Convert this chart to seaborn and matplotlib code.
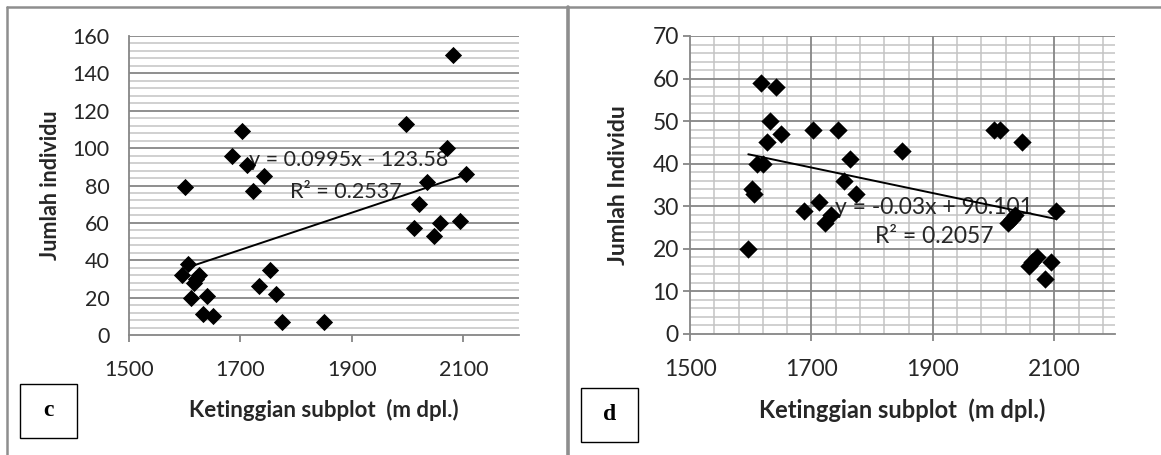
import matplotlib
matplotlib.use("Agg")
import matplotlib.pyplot as plt
from matplotlib.lines import Line2D
from matplotlib.patches import Rectangle
import numpy as np
import pandas as pd
import seaborn as sns

# --- panel c: jumlah individu vs ketinggian ---
c_alt = [2082, 1998, 2071, 2104, 2034, 2021, 2011, 2058, 2094, 2048,
         1703, 1685, 1712, 1742, 1723, 1600, 1605, 1595, 1625, 1617,
         1621, 1611, 1640, 1632, 1650, 1753, 1733, 1763, 1774, 1850]
c_count = [150, 113, 100, 86, 82, 70, 57, 60, 61, 53,
           109, 96, 91, 85, 77, 79, 38, 32, 32, 28,
           30, 20, 21, 11, 10, 35, 26, 22, 7, 7]
c_slope, c_intercept = 0.0995, -123.58
c_eq = "y = 0.0995x - 123.58"
c_r2 = "R\u00b2 = 0.2537"

# --- panel d ---
d_alt = [1617, 1642, 1632, 1650, 1627, 1610, 1620, 1602, 1605, 1596,
         1702, 1744, 1764, 1753, 1774, 1688, 1713, 1722, 1732, 1849,
         2001, 2011, 2047, 2024, 2030, 2036, 2103, 2059, 2071, 2094,
         2085, 2063]
d_count = [59, 58, 50, 47, 45, 40, 40, 34, 33, 20,
           48, 48, 41, 36, 33, 29, 31, 26, 28, 43,
           48, 48, 45, 26, 27, 28, 29, 16, 18, 17,
           13, 17]
d_slope, d_intercept = -0.03, 90.101
d_eq = "y = -0.03x + 90.101"
d_r2 = "R\u00b2 = 0.2057"

x_ticks = [1500, 1700, 1900, 2100]
x_label = "Ketinggian subplot  (m dpl.)"

sns.set_style("white")
plt.rcParams["font.family"] = ["Lato", "DejaVu Sans"]

MAJ = "#868686"
MIN = "#c3c3c3"
TXT = "#262626"

fig = plt.figure(figsize=(11.61, 4.55), dpi=100)
W, H = 1161, 455


def ax_at(x0, y0, x1, y1):
    return fig.add_axes([x0 / W, 1 - y1 / H, (x1 - x0) / W, (y1 - y0) / H])


def panel(ax, alt, count, slope, intercept, eq, r2, ymax, ymaj, ymin,
          vgrid, fs, ylab, eq_pos, r2_pos, ytick_len, ypad, xpad,
          xlab_y, ylab_x):
    df = pd.DataFrame({"alt": alt, "count": count})
    ax.set_xlim(1500, 2200)
    ax.set_ylim(0, ymax)
    ax.set_xticks(x_ticks)
    ax.set_yticks(np.arange(0, ymax + 1, ymaj))
    ax.grid(False)

    # gridlines: light minor lines first, darker major lines on top
    for v in np.arange(0, ymax + 0.1, ymin):
        if v % ymaj:
            ax.axhline(v, color=MIN, lw=1.1, zorder=0.5)
    if vgrid:
        for v in np.arange(1540, 2200, 40):
            if (v - 1500) % 200:
                ax.axvline(v, color=MIN, lw=1.1, zorder=0.5)
        for v in x_ticks[1:]:
            ax.axvline(v, color=MAJ, lw=1.3, zorder=0.8)
    for v in np.arange(ymaj, ymax + 0.1, ymaj):
        ax.axhline(v, color=MAJ, lw=1.3, zorder=0.8)

    for s in ("top", "right"):
        ax.spines[s].set_visible(False)
    for s in ("left", "bottom"):
        ax.spines[s].set_color(MAJ)
        ax.spines[s].set_linewidth(1.3)

    # trend line over the data range
    xs = [min(alt), max(alt)]
    trend = pd.DataFrame({"alt": xs, "fit": [slope * v + intercept for v in xs]})

    ax.text(eq_pos[0], eq_pos[1], eq, ha="center", va="center",
            fontsize=fs, color=TXT, zorder=2)
    ax.text(r2_pos[0], r2_pos[1], r2, ha="center", va="center",
            fontsize=fs, color=TXT, zorder=2)

    sns.lineplot(data=trend, x="alt", y="fit", ax=ax, color="black",
                 lw=1.4, zorder=3)
    sns.scatterplot(data=df, x="alt", y="count", ax=ax, marker="D",
                    color="black", s=72 * (fs / 15) ** 2, edgecolor="black",
                    linewidth=0, zorder=4)

    ax.tick_params(axis="x", direction="out", length=5, width=1.3,
                   color=MAJ, pad=xpad, labelsize=fs, labelcolor=TXT,
                   bottom=True)
    ax.tick_params(axis="y", direction="out", length=ytick_len, width=1.3,
                   color=MAJ, pad=ypad, labelsize=fs, labelcolor=TXT,
                   left=True)

    ax.set_xlabel(x_label, fontsize=fs + 0.5, fontweight="bold", color=TXT,
                  va="center")
    ax.set_ylabel(ylab, fontsize=fs, fontweight="bold", color=TXT,
                  va="center")
    ax.xaxis.set_label_coords(0.5, xlab_y)
    ax.yaxis.set_label_coords(ylab_x, 0.5)


ax_c = ax_at(129, 36, 519, 335)
panel(ax_c, c_alt, c_count, c_slope, c_intercept, c_eq, c_r2,
      160, 20, 4, False, 15.5, "Jumlah individu",
      (1895, 93.6), (1890, 76.5), 0, 14, 13, -0.251, -0.2)

ax_d = ax_at(690, 36, 1115, 334)
panel(ax_d, d_alt, d_count, d_slope, d_intercept, d_eq, d_r2,
      70, 10, 2, True, 16.5, "Jumlah Individu",
      (1902, 29.6), (1902, 22.8), 5, 3, 13, -0.255, -0.168)

# frame lines around the figure
fc = "#8e8e8e"
fig.add_artist(Line2D([7 / W, 1], [1 - 7 / H, 1 - 7 / H],
                      transform=fig.transFigure, color=fc, lw=1.8))
fig.add_artist(Line2D([7 / W, 7 / W], [0, 1 - 7 / H],
                      transform=fig.transFigure, color=fc, lw=1.8))
fig.add_artist(Line2D([568 / W, 568 / W], [0, 1 - 7 / H],
                      transform=fig.transFigure, color=fc, lw=2.6))

# panel letters in boxes
for letter, (bx0, by0, bx1, by1) in (("c", (20, 384, 77, 438)),
                                      ("d", (581, 388, 638, 442))):
    fig.add_artist(Rectangle((bx0 / W, 1 - by1 / H), (bx1 - bx0) / W,
                             (by1 - by0) / H, transform=fig.transFigure,
                             fill=False, edgecolor="black", lw=1.0))
    fig.text((bx0 + bx1) / 2 / W, 1 - (by0 + by1) / 2 / H, letter,
             ha="center", va="center", fontsize=17, fontweight="bold",
             family="Liberation Serif", color="black")

fig.savefig("out.png", dpi=100)
